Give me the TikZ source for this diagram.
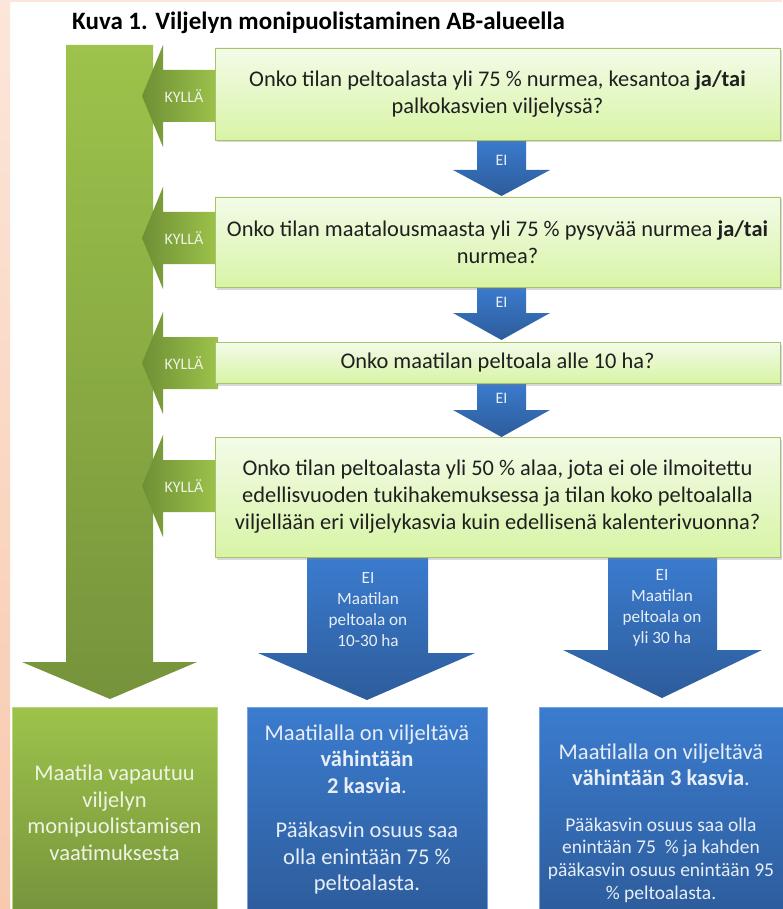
\documentclass[tikz,border=0pt]{standalone}
\usepackage{fontspec}
\setmainfont{Carlito}
\usetikzlibrary{shadows}
\definecolor{peachA}{HTML}{FCE6D9}
\definecolor{peachB}{HTML}{F8C9AE}
\definecolor{gTop}{HTML}{9DC34B}
\definecolor{gBot}{HTML}{76933B}
\definecolor{gDark}{HTML}{6F8F35}
\definecolor{gLight}{HTML}{9DC34B}
\definecolor{qTop}{HTML}{F3FBE8}
\definecolor{qBot}{HTML}{D8F4A6}
\definecolor{qBorder}{HTML}{A6C46A}
\definecolor{bTop}{HTML}{3B7CCF}
\definecolor{bBot}{HTML}{2D5C9B}
\definecolor{lightTxt}{HTML}{EEF3E4}
\definecolor{blueTxt}{HTML}{E8EEF7}
\begin{document}
\begin{tikzpicture}[x=1pt,y=-1pt,
  qbox/.style={draw=qBorder, line width=0.8pt, top color=qTop, bottom color=qBot,
    minimum width=565pt, align=center, inner sep=0pt, text=black!88,
    font=\fontsize{22.4}{27}\selectfont,
    drop shadow={shadow xshift=1.5pt, shadow yshift=-2.5pt, opacity=0.3}},
  yesarrow/.style={left color=gDark, right color=gLight},
  noarrow/.style={top color=bTop, bottom color=bBot},
  yeslabel/.style={text=lightTxt, font=\fontsize{16}{18}\selectfont},
  nolabel/.style={text=blueTxt, font=\fontsize{16}{18}\selectfont},
  arrowtext/.style={text=blueTxt, align=center, font=\fontsize{17.2}{21}\selectfont},
  bigtxt/.style={align=center, font=\fontsize{22.5}{26.5}\selectfont},
]
\useasboundingbox (0,0) rectangle (782,909);
\fill[white] (0,0) rectangle (782,909);
\shade[top color=peachA, bottom color=peachB] (0,0) rectangle (10,909);
\fill[peachA] (0,0) rectangle (782,2);

% title
\node[anchor=west, inner sep=0pt, font=\fontsize{25}{28}\selectfont\bfseries] (title) at (72,23) {Kuva 1. Viljelyn monipuolistaminen AB-alueella};

% big green arrow
\path[top color=gTop, bottom color=gBot]
  (66,45) -- (153,45) -- (153,662) -- (197,662) -- (110,699) -- (22,662) -- (66,662) -- cycle;

% KYLLÄ arrows
\foreach \t/\n in {96/ya, 238/yb, 363/yc, 486/yd}{
  \path[yesarrow] (142,\t) -- (163,\t-51) -- (163,\t-26) -- (218,\t-26) -- (218,\t+26)
    -- (163,\t+26) -- (163,\t+51) -- cycle;
  \node[yeslabel] (\n) at (184,\t) {KYLLÄ};
}

% EI arrows (small)
\foreach \s/\b/\tip/\ly/\n in {138/170/196/160/na, 285/313/340/302/nb, 381/410/437/398/nc}{
  \path[noarrow] (477,\s) -- (526,\s) -- (526,\b) -- (550,\b) -- (501.5,\tip) -- (453,\b) -- (477,\b) -- cycle;
  \node[nolabel] (\n) at (501.5,\ly) {EI};
}

% bottom blue arrows
\path[noarrow] (307,555) -- (428,555) -- (428,653) -- (475,653) -- (367,700) -- (258,653) -- (307,653) -- cycle;
\node[arrowtext] (arrL) at (368,610) {EI\\Maatilan\\peltoala on\\10-30 ha};
\path[noarrow] (608,555) -- (717,555) -- (717,650) -- (762,650) -- (662,698) -- (563,650) -- (608,650) -- cycle;
\node[arrowtext] (arrR) at (662,608) {EI\\Maatilan\\peltoala on\\yli 30 ha};

% question boxes
\node[qbox, minimum height=92pt] (q1) at (497.5,94)
  {Onko tilan peltoalasta yli 75 \% nurmea, kesantoa \textbf{ja/tai}\\palkokasvien viljelyssä?};
\node[qbox, minimum height=90pt] (q2) at (497.5,242)
  {Onko tilan maatalousmaasta yli 75 \% pysyvää nurmea \textbf{ja/tai}\\nurmea?};
\node[qbox, minimum height=41pt] (q3) at (497.5,362.5)
  {Onko maatilan peltoala alle 10 ha?};
\node[qbox, minimum height=120pt] (q4) at (497.5,497)
  {Onko tilan peltoalasta yli 50 \% alaa, jota ei ole ilmoitettu\\edellisvuoden tukihakemuksessa ja tilan koko peltoalalla\\viljellään eri viljelykasvia kuin edellisenä kalenterivuonna?};

% bottom boxes
\path[top color=gTop, bottom color=gBot, draw=gTop!70!white, line width=0.6pt] (12,707) rectangle (217,915);
\node[bigtxt, text=lightTxt] (res0) at (114.5,813)
  {Maatila vapautuu\\viljelyn\\monipuolistamisen\\vaatimuksesta};

\path[top color=bTop, bottom color=bBot, draw=bTop!70!white, line width=0.6pt] (247,707) rectangle (487,915);
\node[bigtxt, text=blueTxt] (res1a) at (367,759)
  {Maatilalla on viljeltävä\\\textbf{vähintään}\\\textbf{2 kasvia}.};
\node[bigtxt, text=blueTxt] (res1b) at (367,858)
  {Pääkasvin osuus saa\\olla enintään 75 \%\\peltoalasta.};

\path[top color=bTop, bottom color=bBot, draw=bTop!70!white, line width=0.6pt] (539,707) rectangle (790,915);
\node[bigtxt, text=blueTxt] (res2a) at (661,765)
  {Maatilalla on viljeltävä\\\textbf{vähintään 3 kasvia}.};
\node[align=center, text=blueTxt, font=\fontsize{19.5}{22.8}\selectfont] (res2b) at (661,860)
  {Pääkasvin osuus saa olla\\enintään 75~~\% ja kahden\\pääkasvin osuus enintään 95\\\% peltoalasta.};
\end{tikzpicture}
\end{document}
